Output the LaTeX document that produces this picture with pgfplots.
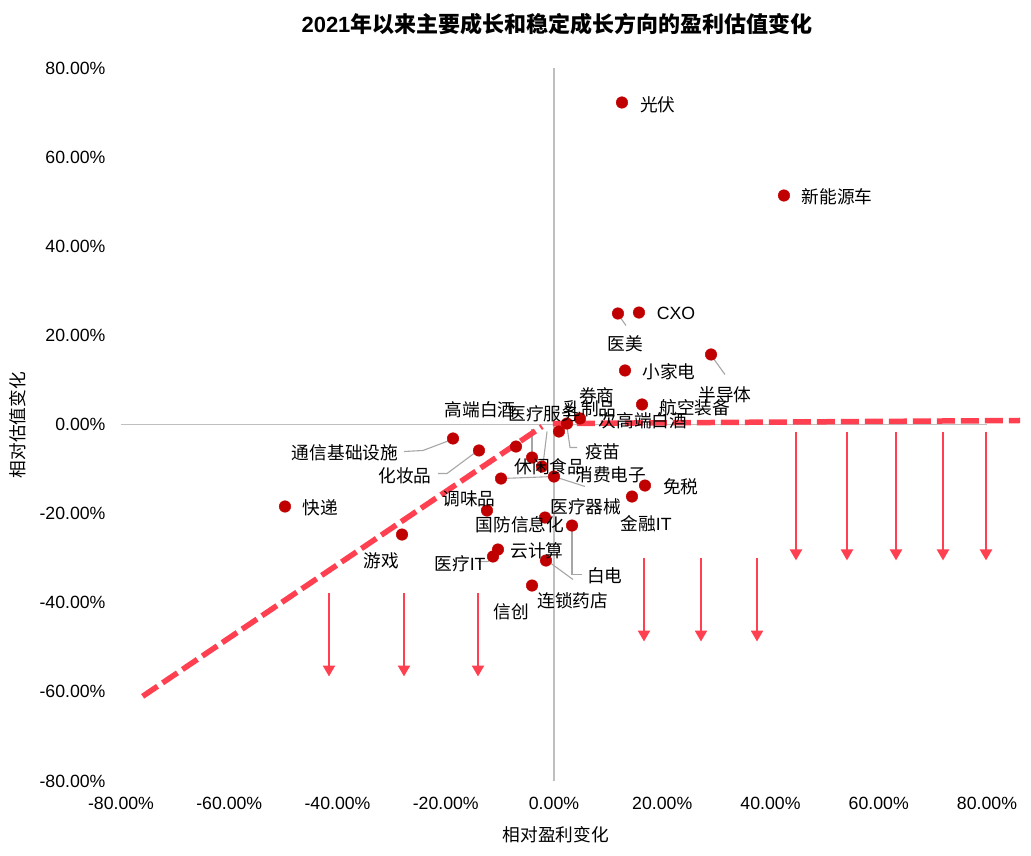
\documentclass[border=0pt]{standalone}
\usepackage{fontspec}
\setmainfont{Liberation Sans}
\newfontfamily\cjk{Noto Sans CJK SC}
\usepackage{pgfplots}
\pgfplotsset{compat=1.18}
\usepackage{pgfplotstable}
\usetikzlibrary{arrows.meta}
\definecolor{dotred}{HTML}{C00000}
\definecolor{shapered}{HTML}{FF4050}
\definecolor{axgray}{HTML}{BFBFBF}
\definecolor{leadgray}{HTML}{A6A6A6}

\pgfplotstableread{
x y
12.56 72.26
42.49 51.39
15.70 25.13
11.82 24.91
13.12 12.12
29.01 15.71
16.26 4.49
4.80 1.35
2.40 0.22
0.92 -1.57
-7.02 -4.94
-4.06 -7.41
-2.22 -9.43
-18.66 -3.14
-13.86 -5.83
-9.79 -12.12
0.00 -11.67
16.81 -13.69
14.41 -16.16
-12.38 -19.30
-1.66 -20.87
3.33 -22.67
-10.35 -28.05
-11.27 -29.62
-1.48 -30.52
-4.06 -36.13
-49.70 -18.40
-28.08 -24.69
}\dots

\pgfplotstableread{
x y label
19.21 71.81 光伏
52.29 51.17 新能源车
13.12 18.18 医美
21.25 11.89 小家电
31.59 6.73 半导体
26.05 3.82 航空装备
7.94 6.51 券商
6.65 3.59 乳制品
16.44 0.90 次高端白酒
-1.85 2.47 医疗服务
-13.67 3.37 高端白酒
9.05 -6.06 疫苗
-0.74 -9.43 休闲食品
10.53 -11.22 消费电子
-38.61 -6.28 通信基础设施
-27.53 -11.45 化妆品
-15.70 -16.61 调味品
23.46 -13.91 免税
5.91 -18.40 医疗器械
-6.28 -22.44 国防信息化
-3.14 -28.28 云计算
9.42 -33.89 白电
3.51 -39.50 连锁药店
-7.94 -41.97 信创
-43.23 -18.63 快递
-31.96 -30.52 游戏
}\labels

\begin{document}
\begin{tikzpicture}
\begin{axis}[
  scale only axis, width=866pt, height=713pt,
  xmin=-80, xmax=80, ymin=-80, ymax=80,
  clip=false,
  axis line style={draw=none},
  major tick length=0pt,
  xtick={-80,-60,...,80}, ytick={-80,-60,...,80},
  /pgf/number format/assume math mode=true,
  xticklabel={\pgfmathprintnumber[fixed,fixed zerofill,precision=2]{\tick}\%},
  yticklabel={\pgfmathprintnumber[fixed,fixed zerofill,precision=2]{\tick}\%},
  tick label style={font=\fontsize{17.7}{20}\selectfont, text=black},
  xticklabel style={yshift=-13pt},
  yticklabel style={xshift=-12pt},
  title={\textbf{2021}{\cjk\bfseries 年以来主要成长和稳定成长方向的盈利估值变化}},
  title style={at={(0.5035,1.0533)}, anchor=center, font=\fontsize{22}{25}\selectfont},
  xlabel={\cjk 相对盈利变化},
  xlabel style={at={(0.502,-0.0757)}, anchor=center, font=\fontsize{17.7}{20}\selectfont},
  ylabel={\cjk 相对估值变化},
  ylabel style={at={(-0.1189,0.4993)}, anchor=center, rotate=0, font=\fontsize{17.7}{20}\selectfont},
]
% zero lines
\addplot[axgray, line width=1.2pt, forget plot] coordinates {(-80,0) (80,0)};
\addplot[axgray, line width=1.2pt, forget plot] coordinates {(0,-80) (0,80)};
% leader lines
\addplot[leadgray, line width=1.1pt] coordinates {(11.99,24.46) (13.30,22.22)};
\addplot[leadgray, line width=1.1pt] coordinates {(29.19,15.26) (31.59,11.22)};
\addplot[leadgray, line width=1.1pt] coordinates {(-27.71,-6.06) (-24.20,-5.83) (-18.85,-3.37)};
\addplot[leadgray, line width=1.1pt] coordinates {(-21.43,-11.0) (-19.77,-11.0) (-14.04,-5.83)};
\addplot[leadgray, line width=1.1pt] coordinates {(2.40,-0.45) (2.96,-5.16) (4.25,-5.16)};
\addplot[leadgray, line width=1.1pt] coordinates {(-4.06,-1.12) (-4.06,-7.18)};
\addplot[leadgray, line width=1.1pt] coordinates {(-1.29,-1.57) (-2.03,-8.98)};
\addplot[leadgray, line width=1.1pt] coordinates {(-9.79,-12.12) (0,-11.67) (5.73,-13.91)};
\addplot[leadgray, line width=1.1pt] coordinates {(-14.04,-30.75) (-12.19,-30.75) (-11.09,-29.62)};
\addplot[leadgray, line width=1.1pt] coordinates {(3.33,-23.11) (3.33,-33.66) (5.17,-33.66)};
\addplot[leadgray, line width=1.1pt] coordinates {(-1.29,-30.52) (3.51,-34.78)};
% dots
\addplot[only marks, mark=*, mark size=5.8pt, dotred, mark options={draw=dotred, fill=dotred}] table[x=x,y=y] {\dots};
% labels
\addplot[only marks, mark=none, nodes near coords, point meta=explicit symbolic,
  every node near coord/.append style={anchor=center, inner sep=0pt, text=black, font=\cjk\fontsize{17.7}{20}\selectfont}]
  table[x=x,y=y,meta=label] {\labels};
\addplot[only marks, mark=none, nodes near coords, point meta=explicit symbolic,
  every node near coord/.append style={anchor=center, inner sep=0pt, text=black, font=\fontsize{17.7}{20}\selectfont}]
  coordinates {(22.54,24.91) [CXO] (17.00,-22.22) [{{\cjk 金融}IT}] (-17.37,-31.19) [{{\cjk 医疗}IT}]};
% dashed lines
\addplot[shapered, line width=5.5pt, dash pattern=on 18pt off 6pt] coordinates {(-76.0,-61.0) (-2.2,-0.45)};
\addplot[shapered, line width=5.5pt, dash pattern=on 18pt off 6pt] coordinates {(-0.2,0.22) (86.1,0.9)};
% arrows
\pgfplotsinvokeforeach{44.71,54.13,63.19,71.87,79.82}{
  \addplot[shapered, line width=2.4pt, -{Triangle[width=12pt,length=11pt]}] coordinates {(#1,-1.6) (#1,-30.5)};
}
\pgfplotsinvokeforeach{16.63,27.16,37.51}{
  \addplot[shapered, line width=2.4pt, -{Triangle[width=12pt,length=11pt]}] coordinates {(#1,-29.85) (#1,-48.7)};
}
\pgfplotsinvokeforeach{-41.57,-27.71,-14.04}{
  \addplot[shapered, line width=2.4pt, -{Triangle[width=12pt,length=11pt]}] coordinates {(#1,-37.7) (#1,-56.55)};
}
\end{axis}
\pgfresetboundingbox
\useasboundingbox (-121pt,-74pt) rectangle (910pt,781pt);
\end{tikzpicture}
\end{document}
